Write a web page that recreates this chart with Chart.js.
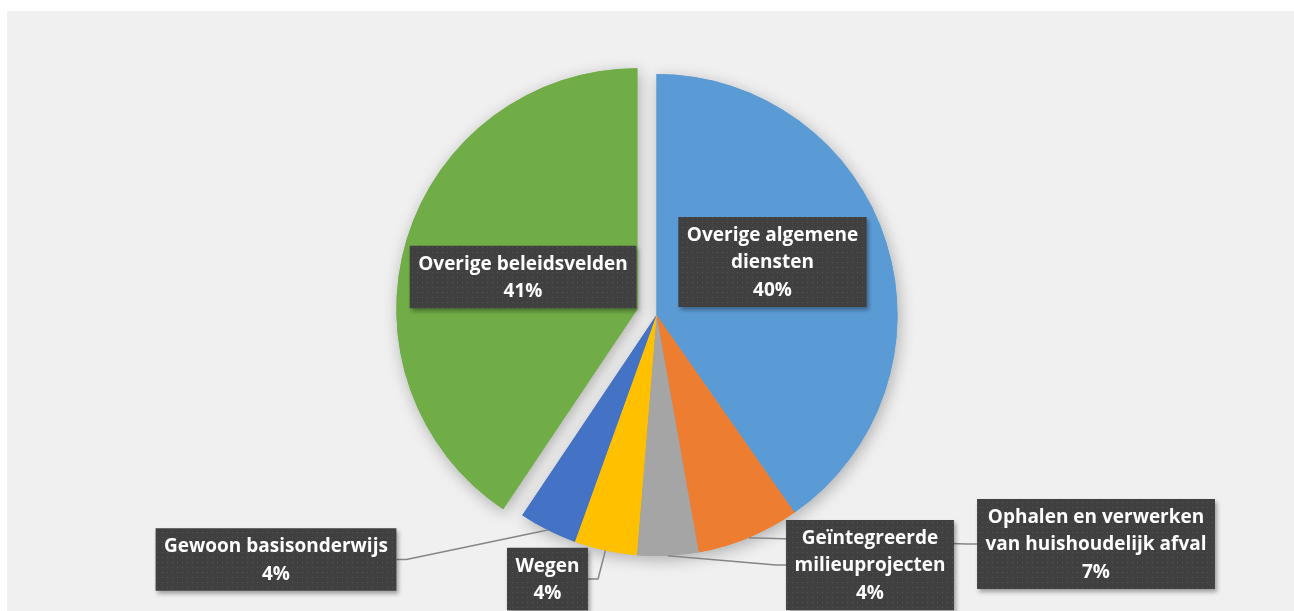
<!DOCTYPE html>
<html>
<head>
<meta charset="utf-8">
<script src="https://cdn.jsdelivr.net/npm/chart.js@4.4.0/dist/chart.umd.min.js"></script>
<style>
    html, body { margin: 0; padding: 0; background: #fff; }
    #wrap { position: relative; width: 1294px; height: 611px; overflow: hidden; }
    #bg { position: absolute; left: 7px; top: 11px; right: 0; bottom: 0; background: #f0f0f0; }
    #chart { position: absolute; left: 0; top: 0; }
</style>
</head>
<body>
<div id="wrap">
    <div id="bg"></div>
    <canvas id="chart" width="1294" height="611"></canvas>
</div>
<script>
// gegevens
const categories = [
    'Overige algemene diensten',
    'Ophalen en verwerken van huishoudelijk afval',
    'Geïntegreerde milieuprojecten',
    'Wegen',
    'Gewoon basisonderwijs',
    'Overige beleidsvelden'
];
const values = [40.3, 6.9, 4.1, 4.2, 3.9, 40.6];
const labelLines = [
    ['Overige algemene', 'diensten'],
    ['Ophalen en verwerken', 'van huishoudelijk afval'],
    ['Geïntegreerde', 'milieuprojecten'],
    ['Wegen'],
    ['Gewoon basisonderwijs'],
    ['Overige beleidsvelden']
];
const colors = ['#5b9bd5', '#ed7d31', '#a5a5a5', '#ffc000', '#4472c4', '#70ad47'];

// opmaak van labels (midden van het kader t.o.v. middelpunt taart)
const labelOffsets = [[116, -53], [439.5, 229], [213.5, 250], [-109, 264], [-380.5, 244.5], [-133.5, -38]];
const hasLeader = [false, true, true, true, true, false];
const explodedIndex = 5;
const explodeDistance = 20;
const lineHeight = 27.5;
const labelFont = "bold 19px 'Open Sans', Lato, sans-serif";

// stippelpatroon voor de kaders
function makePattern(ctx) {
    const c = document.createElement('canvas');
    c.width = 5; c.height = 5;
    const p = c.getContext('2d');
    p.fillStyle = '#404040';
    p.fillRect(0, 0, 5, 5);
    p.fillStyle = '#555555';
    p.fillRect(2, 2, 1, 1);
    return ctx.createPattern(c, 'repeat');
}

const explodePlugin = {
    id: 'explode',
    afterDatasetUpdate(chart) {
        const meta = chart.getDatasetMeta(0);
        const base = meta.data[0];
        const arc = meta.data[explodedIndex];
        const mid = (arc.startAngle + arc.endAngle) / 2;
        arc.x = base.x + Math.cos(mid) * explodeDistance;
        arc.y = base.y + Math.sin(mid) * explodeDistance;
    }
};

const shadowPlugin = {
    id: 'pieShadow',
    beforeDatasetsDraw(chart) {
        const ctx = chart.ctx;
        ctx.save();
        ctx.shadowColor = 'rgba(0,0,0,0.28)';
        ctx.shadowBlur = 16;
        ctx.shadowOffsetX = 2;
        ctx.shadowOffsetY = 4;
        chart.getDatasetMeta(0).data.forEach(a => a.draw(ctx));
        ctx.restore();
    }
};

const labelPlugin = {
    id: 'boxLabels',
    afterDatasetsDraw(chart) {
        const ctx = chart.ctx;
        const meta = chart.getDatasetMeta(0);
        const cx = meta.data[0].x, cy = meta.data[0].y;
        const total = values.reduce((a, b) => a + b, 0);
        ctx.save();
        ctx.font = labelFont;
        const pattern = makePattern(ctx);

        // kaders berekenen
        const boxes = meta.data.map((arc, i) => {
            const lines = labelLines[i].concat([Math.round(values[i] / total * 100) + '%']);
            const w = Math.max(...lines.map(l => ctx.measureText(l).width)) + 17;
            const h = lines.length * lineHeight + 7.5;
            const bx = cx + labelOffsets[i][0], by = cy + labelOffsets[i][1];
            return { lines, x: bx - w / 2, y: by - h / 2, w, h, cx: bx, cy: by };
        });

        // verbindingslijnen
        ctx.strokeStyle = '#858585';
        ctx.lineWidth = 1.5;
        meta.data.forEach((arc, i) => {
            if (!hasLeader[i]) return;
            const b = boxes[i];
            const mid = (arc.startAngle + arc.endAngle) / 2;
            const sx = arc.x + Math.cos(mid) * arc.outerRadius;
            const sy = arc.y + Math.sin(mid) * arc.outerRadius;
            const right = b.cx > sx;
            const ex = right ? b.x : b.x + b.w;
            const kx = right ? ex - 10 : ex + 10;
            ctx.beginPath();
            ctx.moveTo(sx, sy);
            ctx.lineTo(kx, b.cy);
            ctx.lineTo(ex, b.cy);
            ctx.stroke();
        });

        // kaders met tekst
        boxes.forEach(b => {
            ctx.save();
            ctx.shadowColor = 'rgba(0,0,0,0.35)';
            ctx.shadowBlur = 4;
            ctx.shadowOffsetX = 2;
            ctx.shadowOffsetY = 3;
            ctx.fillStyle = pattern;
            ctx.fillRect(b.x, b.y, b.w, b.h);
            ctx.restore();
            ctx.fillStyle = '#ffffff';
            ctx.textAlign = 'center';
            ctx.textBaseline = 'middle';
            b.lines.forEach((l, k) => {
                ctx.fillText(l, b.cx, b.cy + (k - (b.lines.length - 1) / 2) * lineHeight + 1);
            });
        });
        ctx.restore();
    }
};

new Chart(document.getElementById('chart'), {
    type: 'pie',
    data: {
        labels: categories,
        datasets: [{
            data: values,
            backgroundColor: colors,
            borderWidth: 0,
            radius: 241
        }]
    },
    options: {
        responsive: false,
        animation: false,
        devicePixelRatio: 1,
        events: [],
        layout: { padding: { left: 319, right: 300, top: 40, bottom: 21 } },
        plugins: {
            legend: { display: false },
            tooltip: { enabled: false }
        }
    },
    plugins: [explodePlugin, shadowPlugin, labelPlugin]
});
</script>
</body>
</html>
